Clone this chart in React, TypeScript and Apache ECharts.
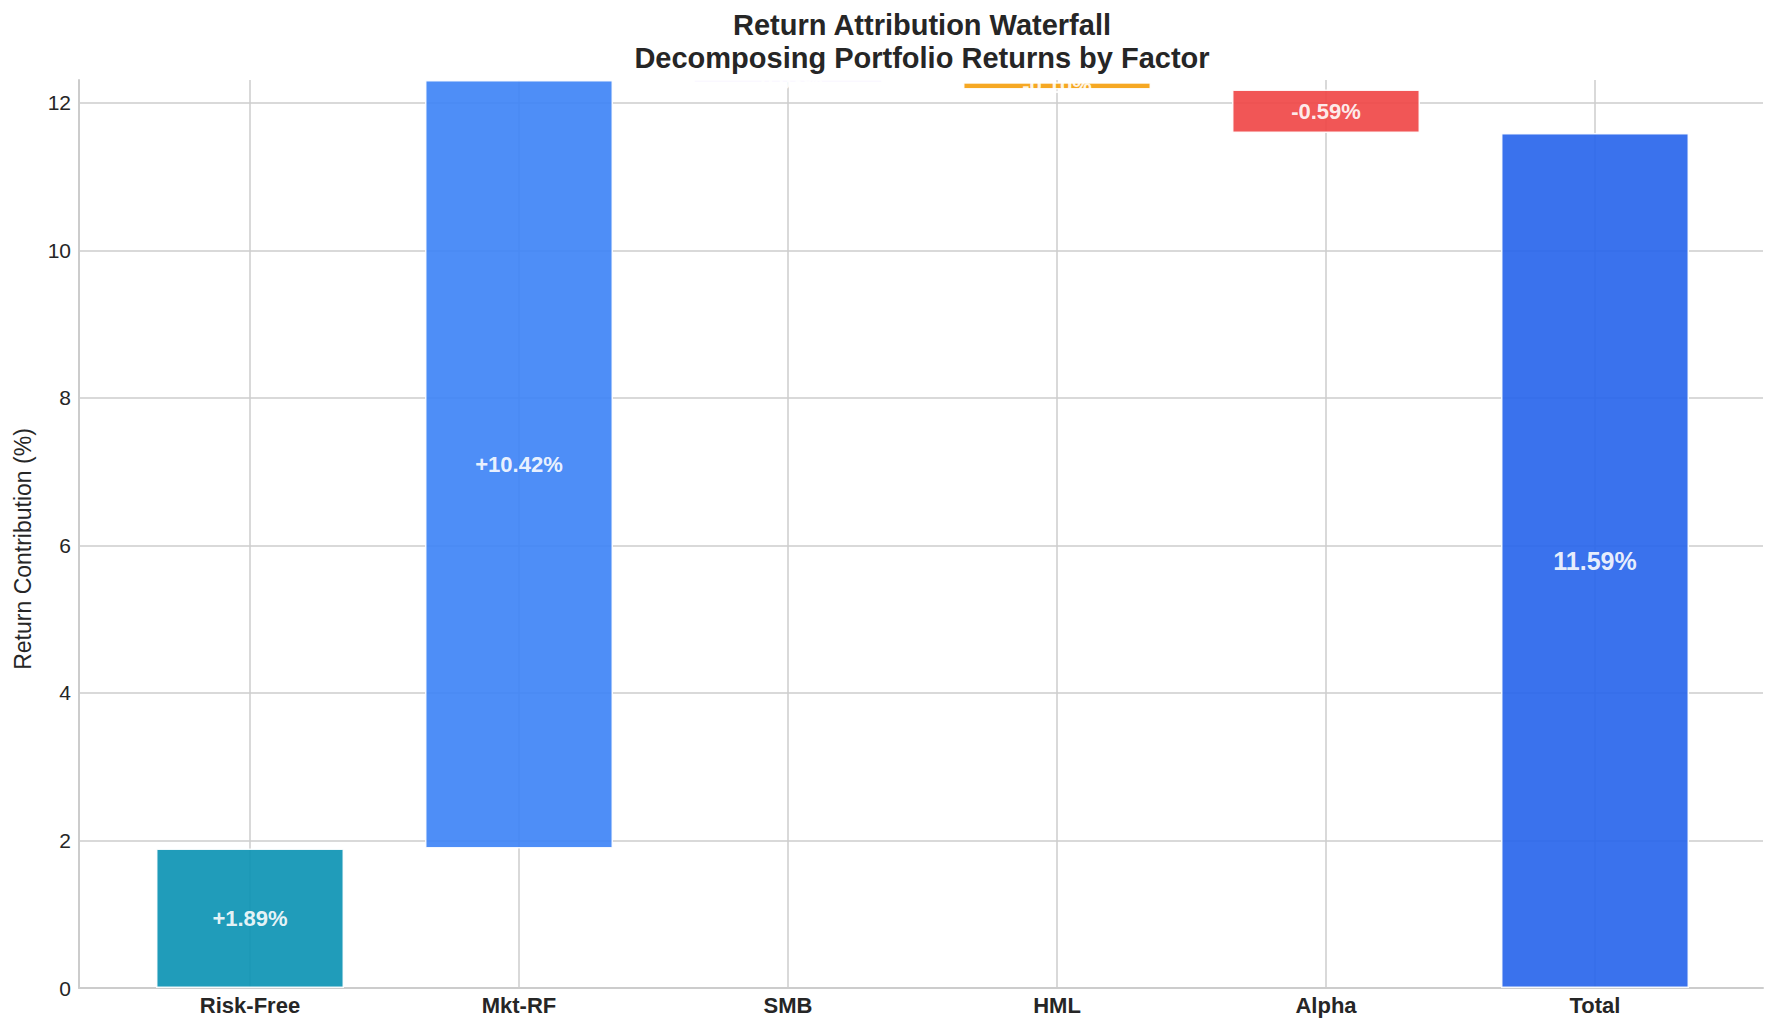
import React, { useEffect, useRef } from "react";
import * as echarts from "echarts";

const categories = ["Risk-Free", "Mkt-RF", "SMB", "HML", "Alpha", "Total"];
const contributions = [1.89, 10.42, -0.03, -0.1, -0.59];
const totalReturn = 11.59;
const barColors = ["#0891b2", "#3b82f6", "#8b5cf6", "#f59e0b", "#ef4444", "#2563eb"];
const yMax = 12.31;
const titleLines = ["Return Attribution Waterfall", "Decomposing Portfolio Returns by Factor"];
const yAxisTitle = "Return Contribution (%)";

const FONT = "'Liberation Sans', Arial, sans-serif";
const TEXT = "#262626";
const GRID = "#cccccc";

export default function App() {
  const ref = useRef<HTMLDivElement>(null);

  useEffect(() => {
    if (!ref.current) return;
    const chart = echarts.init(ref.current, null, { renderer: "svg" });

    const bases: number[] = [];
    const heights: number[] = [];
    const labels: string[] = [];
    let running = 0;
    contributions.forEach((c) => {
      bases.push(c >= 0 ? running : running + c);
      heights.push(Math.abs(c));
      labels.push((c >= 0 ? "+" : "-") + Math.abs(c).toFixed(2) + "%");
      running += c;
    });
    bases.push(0);
    heights.push(totalReturn);
    labels.push(totalReturn.toFixed(2) + "%");

    const valueData = heights.map((h, i) => ({
      value: h,
      itemStyle: {
        color: barColors[i],
        opacity: 0.9,
        borderColor: "#ffffff",
        borderWidth: 1.5,
      },
      label: {
        show: true,
        position: "inside",
        formatter: labels[i],
        color: "#ffffff",
        fontWeight: "bold",
        fontFamily: FONT,
        fontSize: i === heights.length - 1 ? 25 : 22,
        lineHeight: 16,
      },
    }));

    chart.setOption({
      animation: false,
      backgroundColor: "#ffffff",
      graphic: [
        {
          type: "text",
          x: 922,
          y: 25,
          style: {
            text: titleLines[0],
            textAlign: "center",
            textVerticalAlign: "middle",
            fontSize: 29,
            fontWeight: "bold",
            fontFamily: FONT,
            fill: TEXT,
          },
        },
        {
          type: "text",
          x: 922,
          y: 58,
          style: {
            text: titleLines[1],
            textAlign: "center",
            textVerticalAlign: "middle",
            fontSize: 29,
            fontWeight: "bold",
            fontFamily: FONT,
            fill: TEXT,
          },
        },
        {
          type: "text",
          x: 23,
          y: 549,
          rotation: Math.PI / 2,
          style: {
            text: yAxisTitle,
            textAlign: "center",
            textVerticalAlign: "middle",
            fontSize: 23,
            fontFamily: FONT,
            fill: TEXT,
          },
        },
      ],
      grid: [
        { left: 79, right: 17, top: 80, bottom: 43 },
        { left: 250, right: 185, top: 80, bottom: 43 },
      ],
      xAxis: [
        {
          type: "value",
          gridIndex: 0,
          min: 0,
          max: 1,
          axisLine: { show: true, lineStyle: { color: GRID, width: 2 } },
          axisTick: { show: false },
          axisLabel: { show: false },
          splitLine: { show: false },
        },
        {
          type: "category",
          gridIndex: 1,
          data: categories,
          boundaryGap: false,
          axisLine: { show: false },
          axisTick: { show: false },
          axisLabel: {
            color: TEXT,
            fontWeight: "bold",
            fontSize: 22,
            fontFamily: FONT,
            margin: 6,
            interval: 0,
          },
          splitLine: { show: true, lineStyle: { color: GRID, width: 1.5 } },
        },
      ],
      yAxis: [
        {
          type: "value",
          gridIndex: 0,
          min: 0,
          max: yMax,
          interval: 2,
          axisLine: { show: true, lineStyle: { color: GRID, width: 2 } },
          axisTick: { show: false },
          axisLabel: {
            color: TEXT,
            fontSize: 21,
            fontFamily: FONT,
            margin: 8,
            showMaxLabel: false,
          },
          splitLine: { show: true, showMaxLine: false, lineStyle: { color: GRID, width: 1.5 } },
        },
        {
          type: "value",
          gridIndex: 1,
          min: 0,
          max: yMax,
          show: false,
          splitLine: { show: false },
        },
      ],
      series: [
        {
          type: "bar",
          xAxisIndex: 1,
          yAxisIndex: 1,
          stack: "waterfall",
          barWidth: 188,
          clip: false,
          silent: true,
          itemStyle: { color: "transparent" },
          data: bases,
        },
        {
          type: "bar",
          xAxisIndex: 1,
          yAxisIndex: 1,
          stack: "waterfall",
          barWidth: 188,
          clip: false,
          data: valueData,
        },
      ],
    });

    return () => chart.dispose();
  }, []);

  return (
    <div
      ref={ref}
      style={{ position: "fixed", left: 0, top: 0, width: 1780, height: 1031, background: "#fff" }}
    />
  );
}
